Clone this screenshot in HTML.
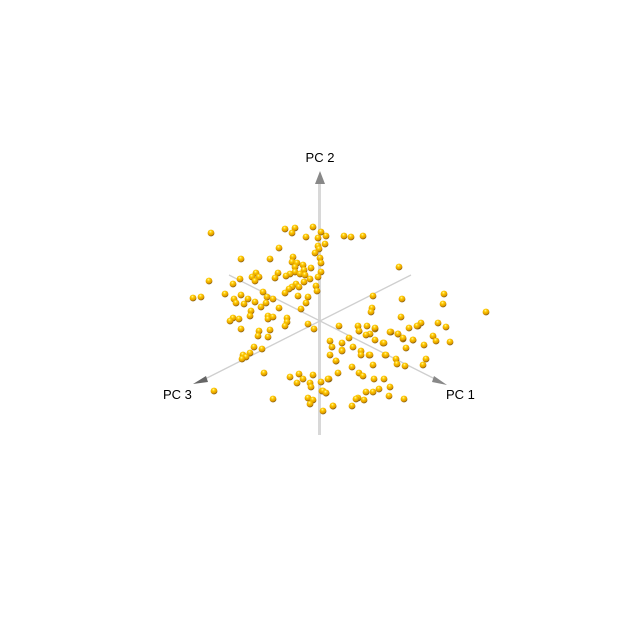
<!DOCTYPE html>
<html><head><meta charset="utf-8"><style>
html,body{margin:0;padding:0;background:#fff;width:640px;height:640px;overflow:hidden}
svg{display:block}
text{font-family:"Liberation Sans",sans-serif;font-size:13px;fill:#000}
</style></head><body>
<svg id="chart" width="640" height="640" viewBox="0 0 640 640">
<defs>
<radialGradient id="ball" cx="0.42" cy="0.3" r="0.7">
<stop offset="0" stop-color="#fff6b0"/>
<stop offset="0.3" stop-color="#ffcc00"/>
<stop offset="0.75" stop-color="#e09a00"/>
<stop offset="1" stop-color="#6a4a10"/>
</radialGradient>
</defs>
<g id="axes">
<line x1="319.5" y1="435" x2="319.5" y2="182" stroke="#d8d8d8" stroke-width="3"/>
<polygon points="320,171 315,184 325,184" fill="#888"/>
<line x1="229" y1="275" x2="437" y2="380" stroke="#cfcfcf" stroke-width="1.3"/>
<polygon points="447,385 434,376 432,382" fill="#888"/>
<line x1="411" y1="275" x2="203" y2="380" stroke="#cfcfcf" stroke-width="1.3"/>
<polygon points="193,384 206,376 208,382" fill="#666"/>
<text x="320" y="162" text-anchor="middle">PC 2</text>
<text x="446" y="399">PC 1</text>
<text x="163" y="399">PC 3</text>
</g>
<g id="points"></g>
</svg>
<script>
// projected component scores (screen-projection units)
const pcX = [211,285,295,292,313,306,318,326,321,325,318,319,315,320,279,241,270,293,292,297,303,304,295,295,311,321,321,300,305,318,310,304,290,286,278,275,256,252,259,255,240,233,209,296,292,289,299,285,316,317,298,308,306,301,263,267,273,279,225,241,234,236,244,248,255,261,266,193,201,251,250,233,230,239,268,268,273,287,287,285,308,314,241,259,270,258,268,254,262,250,243,246,242,264,290,299,303,297,313,321,329,310,311,214,273,308,313,310,322,326,333,323,344,351,363,399,373,402,444,443,486,372,371,401,339,358,367,375,359,370,391,398,409,418,421,438,446,433,436,450,424,413,403,406,383,330,332,349,353,342,361,369,385,396,397,426,423,405,373,336,352,338,359,363,374,384,390,379,373,366,358,356,364,389,404,352,333,328,323,326,366,359,375,390,398,417,403,413,375,384,342,342,361,370,386,330,336];
const pcY = [233,229,228,233,227,237,238,236,232,244,246,249,253,258,248,259,259,257,262,263,265,270,267,272,268,263,272,274,275,277,279,282,274,276,273,278,273,277,277,281,279,284,281,284,287,289,287,293,286,291,296,297,303,309,292,297,299,308,294,295,299,303,304,299,302,307,303,298,297,311,316,318,321,319,316,319,317,318,322,326,324,329,329,331,330,336,337,347,349,353,355,357,359,373,377,374,379,383,375,382,379,383,387,391,399,398,400,404,391,393,406,411,236,237,236,267,296,299,294,304,312,308,312,317,326,326,326,329,331,334,332,334,328,326,323,323,327,336,341,342,345,340,339,348,343,341,347,338,347,350,351,355,355,359,364,359,365,366,365,361,367,373,373,376,379,379,387,389,392,392,398,399,400,396,399,406,406,379,391,393,335,331,328,332,334,326,338,340,340,343,343,351,355,355,355,355,361];
const xDomain = [0, 640], yDomain = [0, 640];
const xScale = v => (v - xDomain[0]) / (xDomain[1] - xDomain[0]) * 640;
const yScale = v => (v - yDomain[0]) / (yDomain[1] - yDomain[0]) * 640;
const g = document.getElementById('points');
const ns = 'http://www.w3.org/2000/svg';
const n = Math.min(pcX.length, pcY.length);
for (let i = 0; i < n; i++) {
  const c = document.createElementNS(ns, 'circle');
  c.setAttribute('cx', xScale(pcX[i]));
  c.setAttribute('cy', yScale(pcY[i]));
  c.setAttribute('r', 3.4);
  c.setAttribute('fill', 'url(#ball)');
  
  
  g.appendChild(c);
}
</script>
</body></html>
